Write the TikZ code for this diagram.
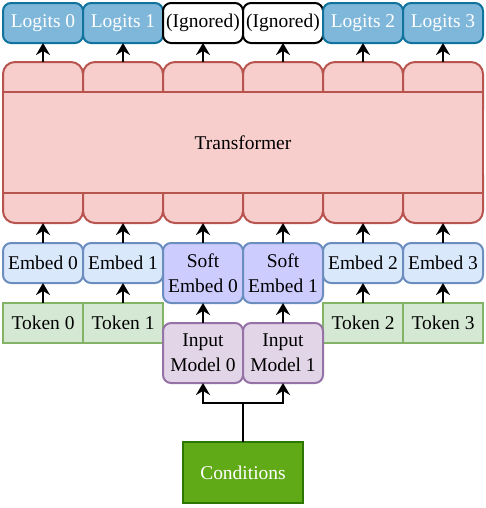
\documentclass[tikz,border=0pt]{standalone}
\usepackage{fontspec}
\setmainfont{Liberation Serif}
\usetikzlibrary{arrows.meta,positioning}
\definecolor{logitfill}{HTML}{7FB7DA}
\definecolor{logitline}{HTML}{10739E}
\definecolor{trffill}{HTML}{F8CECC}
\definecolor{trfline}{HTML}{B85450}
\definecolor{embfill}{HTML}{DAE8FC}
\definecolor{embline}{HTML}{6C8EBF}
\definecolor{softfill}{HTML}{CCCCFF}
\definecolor{tokfill}{HTML}{D5E8D4}
\definecolor{tokline}{HTML}{82B366}
\definecolor{inpfill}{HTML}{E1D5E7}
\definecolor{inpline}{HTML}{9673A6}
\definecolor{condfill}{HTML}{60A917}
\definecolor{condline}{HTML}{2D7600}

\begin{document}
\begin{tikzpicture}[node distance=0pt,
	every node/.style={font=\fontsize{14.6}{18.75}\selectfont, inner sep=0pt, outer sep=0pt, line width=1.5pt, align=center},
	box/.style={draw, minimum width=60pt, minimum height=30pt, rounded corners=6pt},
	tall/.style={box, minimum height=45pt},
	logit/.style={box, fill=logitfill, draw=logitline, text=white},
	ignored/.style={box, fill=white, draw=black},
	tab/.style={tall, fill=trffill, draw=trfline, rounded corners=9pt},
	embed/.style={box, fill=embfill, draw=embline},
	soft/.style={tall, fill=softfill, draw=embline},
	token/.style={box, fill=tokfill, draw=tokline, rounded corners=0pt},
	inmodel/.style={tall, fill=inpfill, draw=inpline},
	cond/.style={draw=condline, fill=condfill, text=white, minimum width=90pt, minimum height=45.75pt},
	arr/.style={-{Stealth[length=9pt,width=10.5pt,inset=3pt]}, line width=2pt}]
	\useasboundingbox (0,0) rectangle (364.5pt,-381pt);

	% outputs
	\node[logit] (lg0) at (32.25pt,-17.25pt) {Logits 0};
	\node[logit] (lg1) [right=of lg0] {Logits 1};
	\node[ignored] (ig0) [right=of lg1] {(Ignored)};
	\node[ignored] (ig1) [right=of ig0] {(Ignored)};
	\node[logit] (lg2) [right=of ig1] {Logits 2};
	\node[logit] (lg3) [right=of lg2] {Logits 3};

	% transformer
	\node[tab] (tt0) at (32.25pt,-69pt) {};
	\node[tab] (tt1) [right=of tt0] {};
	\node[tab] (tt2) [right=of tt1] {};
	\node[tab] (tt3) [right=of tt2] {};
	\node[tab] (tt4) [right=of tt3] {};
	\node[tab] (tt5) [right=of tt4] {};
	\node[tab] (bt0) at (32.25pt,-144.75pt) {};
	\node[tab] (bt1) [right=of bt0] {};
	\node[tab] (bt2) [right=of bt1] {};
	\node[tab] (bt3) [right=of bt2] {};
	\node[tab] (bt4) [right=of bt3] {};
	\node[tab] (bt5) [right=of bt4] {};
	\node[draw=trfline, fill=trffill, minimum width=360pt, minimum height=75.75pt] (trf) at (182.25pt,-106.875pt) {Transformer};

	% embeddings
	\node[embed] (emb0) at (32.25pt,-197.25pt) {Embed 0};
	\node[embed] (emb1) [right=of emb0] {Embed 1};
	\node[soft] (se0) [right=of emb1.north east, anchor=north west] {Soft\\Embed 0};
	\node[soft] (se1) [right=of se0] {Soft\\Embed 1};
	\node[embed] (emb2) [right=of se1.north east, anchor=north west] {Embed 2};
	\node[embed] (emb3) [right=of emb2] {Embed 3};

	% inputs
	\node[token] (tok0) [below=15pt of emb0] {Token 0};
	\node[token] (tok1) [right=of tok0] {Token 1};
	\node[token] (tok2) [below=15pt of emb2] {Token 2};
	\node[token] (tok3) [right=of tok2] {Token 3};
	\node[inmodel] (im0) [below=15pt of se0] {Input\\Model 0};
	\node[inmodel] (im1) [right=of im0] {Input\\Model 1};
	\node[cond] (cond) at (182.25pt,-354.375pt) {Conditions};
	\coordinate (split) at (182.25pt,-302.25pt);

	% connectors
	\draw[arr] (tt0) -- (lg0);
	\draw[arr] (tt1) -- (lg1);
	\draw[arr] (tt2) -- (ig0);
	\draw[arr] (tt3) -- (ig1);
	\draw[arr] (tt4) -- (lg2);
	\draw[arr] (tt5) -- (lg3);
	\draw[arr] (emb0) -- (bt0);
	\draw[arr] (emb1) -- (bt1);
	\draw[arr] (se0) -- (bt2);
	\draw[arr] (se1) -- (bt3);
	\draw[arr] (emb2) -- (bt4);
	\draw[arr] (emb3) -- (bt5);
	\draw[arr] (tok0) -- (emb0);
	\draw[arr] (tok1) -- (emb1);
	\draw[arr] (tok2) -- (emb2);
	\draw[arr] (tok3) -- (emb3);
	\draw[arr] (im0) -- (se0);
	\draw[arr] (im1) -- (se1);
	\draw[line width=2pt] (cond) -- (split);
	\draw[arr] (split) -| (im0);
	\draw[arr] (split) -| (im1);
\end{tikzpicture}
\end{document}
